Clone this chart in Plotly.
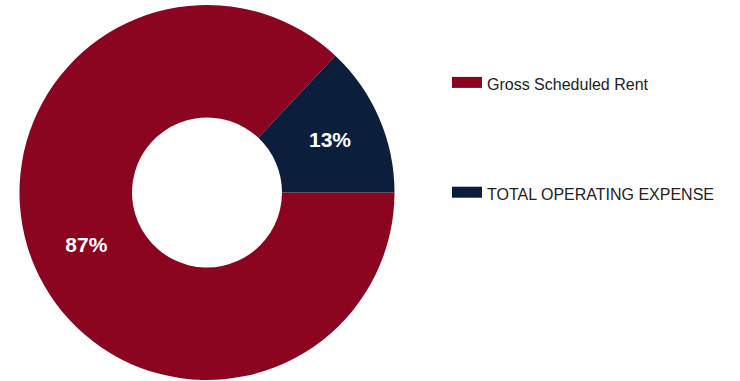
import plotly.graph_objects as go

labels = ["Gross Scheduled Rent", "TOTAL OPERATING EXPENSE"]
values = [87, 13]
colors = ["#8B0420", "#0B1E3B"]

W, H = 740, 381

fig = go.Figure()
fig.add_trace(go.Pie(
    labels=labels,
    values=values,
    marker=dict(colors=colors, line=dict(width=0)),
    hole=0.40,
    sort=False,
    direction="clockwise",
    rotation=90,
    textinfo="percent",
    textposition="inside",
    insidetextorientation="horizontal",
    textfont=dict(family="Liberation Sans, Arial, sans-serif", size=21, color="white", weight="bold"),
    showlegend=False,
    domain=dict(x=[0, 414 / W], y=[0, 1]),
))

# legend entries
for i, (lab, col) in enumerate(zip(labels, colors)):
    fig.add_trace(go.Scatter(
        x=[None], y=[None], mode="lines", name=lab,
        line=dict(color=col, width=14),
        fill="toself", fillcolor=col,
        legendgroup=f"g{i}", showlegend=True, hoverinfo="skip",
    ))

fig.update_layout(
    width=W, height=H,
    margin=dict(l=0, r=0, t=5, b=1),
    paper_bgcolor="white", plot_bgcolor="white",
    xaxis=dict(visible=False), yaxis=dict(visible=False),
    legend=dict(
        x=447 / W, y=1 - 63 / H, xanchor="left", yanchor="top",
        font=dict(family="Liberation Sans, Arial, sans-serif", size=16, color="#222222"),
        tracegroupgap=86, bgcolor="rgba(0,0,0,0)",
    ),
)

fig.write_html("out.html")
